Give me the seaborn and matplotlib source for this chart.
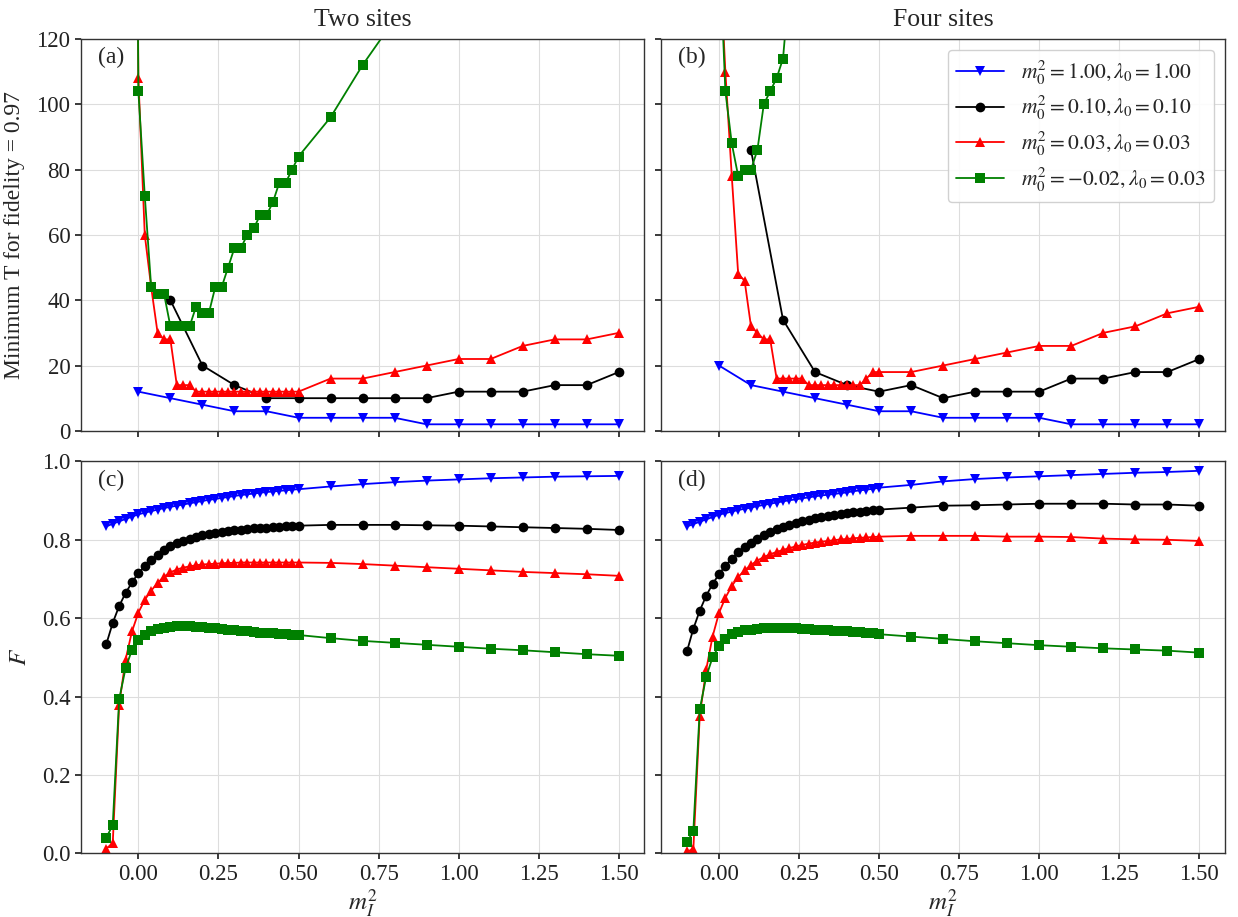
import matplotlib
matplotlib.use("Agg")
import matplotlib.pyplot as plt
import seaborn as sns

# ---------------- data ----------------
M_DENSE = [-0.10, -0.08, -0.06, -0.04, -0.02, 0.00, 0.02, 0.04, 0.06, 0.08,
           0.10, 0.12, 0.14, 0.16, 0.18, 0.20, 0.22, 0.24, 0.26, 0.28,
           0.30, 0.32, 0.34, 0.36, 0.38, 0.40, 0.42, 0.44, 0.46, 0.48, 0.50]
M_COARSE = [0.6, 0.7, 0.8, 0.9, 1.0, 1.1, 1.2, 1.3, 1.4, 1.5]
M_STEP = [0.0, 0.1, 0.2, 0.3, 0.4, 0.5] + M_COARSE
M_BOTTOM = M_DENSE + M_COARSE

LABELS = [r"$m_0^2 = 1.00, \lambda_0 = 1.00$",
          r"$m_0^2 = 0.10, \lambda_0 = 0.10$",
          r"$m_0^2 = 0.03, \lambda_0 = 0.03$",
          r"$m_0^2 = -0.02, \lambda_0 = 0.03$"]
COLORS = ["blue", "black", "red", "green"]
MARKERS = ["v", "o", "^", "s"]

# (a) two sites, minimum T
Ta_blue_x = M_STEP
Ta_blue = [12, 10, 8, 6, 6, 4, 4, 4, 4, 2, 2, 2, 2, 2, 2, 2]
Ta_black_x = M_STEP[1:]
Ta_black = [40, 20, 14, 10, 10, 10, 10, 10, 10, 12, 12, 12, 14, 14, 18]
Ta_red_x = M_DENSE[4:] + M_COARSE
Ta_red = [400, 108, 60, 44, 30, 28, 28, 14, 14, 14,
          12, 12, 12, 12, 12, 12, 12, 12, 12, 12, 12, 12, 12, 12, 12, 12, 12,
          16, 16, 18, 20, 22, 22, 26, 28, 28, 30]
Ta_green_x = M_DENSE[4:] + M_COARSE[:3]
Ta_green = [400, 104, 72, 44, 42, 42, 32, 32, 32, 32, 38, 36, 36, 44, 44,
            50, 56, 56, 60, 62, 66, 66, 70, 76, 76, 80, 84, 96, 112, 126]

# (b) four sites, minimum T
Tb_blue_x = M_STEP
Tb_blue = [20, 14, 12, 10, 8, 6, 6, 4, 4, 4, 4, 2, 2, 2, 2, 2]
Tb_black_x = M_STEP[1:]
Tb_black = [86, 34, 18, 14, 12, 14, 10, 12, 12, 12, 16, 16, 18, 18, 22]
Tb_red_x = M_DENSE[5:] + M_COARSE
Tb_red = [150, 110, 78, 48, 46, 32, 30, 28, 28,
          16, 16, 16, 16, 16,
          14, 14, 14, 14, 14, 14, 14, 14, 14,
          16, 18, 18,
          18, 20, 22, 24, 26, 26, 30, 32, 36, 38]
Tb_green_x = M_DENSE[5:17]
Tb_green = [152, 104, 88, 78, 80, 80, 86, 100, 104, 108, 114, 137]

# (c) two sites, fidelity
Fc_blue = [0.834, 0.841, 0.847, 0.853, 0.859, 0.865, 0.869, 0.873, 0.877, 0.881,
           0.884, 0.887, 0.890, 0.893, 0.896, 0.899, 0.902, 0.904, 0.907, 0.909,
           0.912, 0.914, 0.916, 0.918, 0.920, 0.922, 0.923, 0.925, 0.926, 0.928, 0.929,
           0.936, 0.942, 0.947, 0.951, 0.954, 0.957, 0.959, 0.961, 0.962, 0.963]
Fc_black = [0.534, 0.588, 0.631, 0.664, 0.691, 0.715, 0.733, 0.749, 0.762, 0.773,
            0.783, 0.791, 0.798, 0.803, 0.807, 0.811, 0.814, 0.817, 0.820, 0.822,
            0.824, 0.826, 0.828, 0.829, 0.830, 0.831, 0.832, 0.833, 0.834, 0.835, 0.836,
            0.838, 0.838, 0.838, 0.837, 0.836, 0.834, 0.832, 0.830, 0.828, 0.825]
Fc_red = [0.012, 0.026, 0.379, 0.494, 0.566, 0.614, 0.647, 0.670, 0.690, 0.706,
          0.717, 0.724, 0.729, 0.732, 0.735, 0.737, 0.738, 0.739, 0.740, 0.741,
          0.741, 0.742, 0.742, 0.742, 0.742, 0.742, 0.742, 0.742, 0.742, 0.742, 0.742,
          0.741, 0.738, 0.734, 0.730, 0.726, 0.722, 0.718, 0.715, 0.712, 0.708]
Fc_green = [0.040, 0.072, 0.393, 0.472, 0.519, 0.544, 0.558, 0.567, 0.573, 0.576,
            0.578, 0.579, 0.579, 0.579, 0.578, 0.577, 0.576, 0.574, 0.573, 0.571,
            0.569, 0.568, 0.566, 0.565, 0.563, 0.562, 0.561, 0.560, 0.559, 0.558, 0.557,
            0.549, 0.542, 0.537, 0.532, 0.527, 0.522, 0.518, 0.513, 0.508, 0.504]

# (d) four sites, fidelity
Fd_blue = [0.834, 0.840, 0.846, 0.852, 0.858, 0.864, 0.868, 0.872, 0.876, 0.879,
           0.882, 0.886, 0.889, 0.892, 0.895, 0.898, 0.901, 0.903, 0.906, 0.908,
           0.911, 0.913, 0.915, 0.917, 0.919, 0.921, 0.924, 0.926, 0.928, 0.930, 0.933,
           0.940, 0.949, 0.955, 0.959, 0.962, 0.965, 0.968, 0.971, 0.973, 0.976]
Fd_black = [0.515, 0.573, 0.619, 0.657, 0.687, 0.712, 0.734, 0.752, 0.768, 0.781,
            0.793, 0.803, 0.812, 0.820, 0.827, 0.833, 0.838, 0.843, 0.847, 0.851,
            0.855, 0.858, 0.861, 0.864, 0.866, 0.868, 0.870, 0.872, 0.874, 0.876, 0.877,
            0.882, 0.887, 0.888, 0.890, 0.892, 0.892, 0.892, 0.890, 0.890, 0.887]
Fd_red = [0.005, 0.010, 0.351, 0.468, 0.553, 0.613, 0.652, 0.682, 0.705, 0.722,
          0.736, 0.747, 0.756, 0.763, 0.769, 0.774, 0.779, 0.783, 0.787, 0.790,
          0.793, 0.795, 0.797, 0.799, 0.801, 0.802, 0.804, 0.805, 0.806, 0.807, 0.808,
          0.810, 0.810, 0.810, 0.808, 0.808, 0.807, 0.803, 0.801, 0.800, 0.797]
Fd_green = [0.028, 0.057, 0.367, 0.450, 0.500, 0.529, 0.548, 0.559, 0.565, 0.569,
            0.571, 0.573, 0.574, 0.575, 0.575, 0.575, 0.575, 0.574, 0.573, 0.572,
            0.571, 0.570, 0.569, 0.568, 0.567, 0.566, 0.565, 0.564, 0.562, 0.561, 0.559,
            0.553, 0.547, 0.541, 0.536, 0.531, 0.527, 0.523, 0.520, 0.517, 0.512]

X_TICKS = [0.00, 0.25, 0.50, 0.75, 1.00, 1.25, 1.50]
T_TICKS = [0, 20, 40, 60, 80, 100, 120]
F_TICKS = [0.0, 0.2, 0.4, 0.6, 0.8, 1.0]

# ---------------- style ----------------
sns.set_theme(style="whitegrid")
plt.rcParams["font.family"] = ["Liberation Serif", "DejaVu Serif"]
plt.rcParams["mathtext.fontset"] = "stix"
plt.rcParams.update({
    "axes.edgecolor": "#333333",
    "axes.linewidth": 1.0,
    "grid.color": "#dddddd",
    "grid.linewidth": 0.8,
    "xtick.bottom": True,
    "ytick.left": True,
    "xtick.major.size": 4,
    "ytick.major.size": 4,
    "xtick.color": "#222222",
    "ytick.color": "#222222",
    "xtick.labelsize": 16.5,
    "ytick.labelsize": 16.5,
})

fig, axes = plt.subplots(2, 2, figsize=(12.38, 9.17), dpi=100)
fig.subplots_adjust(left=0.0652, right=0.9895, top=0.9575, bottom=0.0695,
                    wspace=0.03, hspace=0.078)

top_sets = [
    [(Ta_blue_x, Ta_blue), (Ta_black_x, Ta_black), (Ta_red_x, Ta_red), (Ta_green_x, Ta_green)],
    [(Tb_blue_x, Tb_blue), (Tb_black_x, Tb_black), (Tb_red_x, Tb_red), (Tb_green_x, Tb_green)],
]
bot_sets = [
    [Fc_blue, Fc_black, Fc_red, Fc_green],
    [Fd_blue, Fd_black, Fd_red, Fd_green],
]

MS = 7
for j in range(2):
    ax = axes[0, j]
    for k, (xs, ys) in enumerate(top_sets[j]):
        sns.lineplot(x=xs, y=ys, ax=ax, color=COLORS[k], marker=MARKERS[k],
                     markersize=MS, markeredgewidth=0, linewidth=1.3,
                     estimator=None, sort=False, label=LABELS[k] if j == 1 else None)
    ax.set_ylim(0, 120)
    ax.set_yticks(T_TICKS)
    ax = axes[1, j]
    for k, ys in enumerate(bot_sets[j]):
        sns.lineplot(x=M_BOTTOM, y=ys, ax=ax, color=COLORS[k], marker=MARKERS[k],
                     markersize=MS, markeredgewidth=0, linewidth=1.3,
                     estimator=None, sort=False)
    ax.set_ylim(0, 1.0)
    ax.set_yticks(F_TICKS)

for ax in axes.flat:
    ax.set_xlim(-0.18, 1.58)
    ax.set_xticks(X_TICKS)
    ax.grid(True, color="#dddddd", linewidth=0.8)
    ax.set_xlabel("")
    ax.set_ylabel("")

for ax in axes[0, :]:
    ax.tick_params(labelbottom=False)
for ax in axes[:, 1]:
    ax.tick_params(labelleft=False)
for ax in axes[1, :]:
    ax.set_xticklabels([f"{t:.2f}" for t in X_TICKS])
    ax.set_xlabel(r"$m_I^2$", fontsize=18, labelpad=2)
axes[0, 0].set_yticklabels([str(t) for t in T_TICKS])
axes[1, 0].set_yticklabels([f"{t:.1f}" for t in F_TICKS])

axes[0, 0].set_ylabel("Minimum T for fidelity = 0.97", fontsize=17, labelpad=8)
axes[1, 0].set_ylabel(r"$F$", fontsize=18, labelpad=8)
axes[0, 0].set_title("Two sites", fontsize=18.5, pad=9)
axes[0, 1].set_title("Four sites", fontsize=18.5, pad=9)

for ax, lab in zip(axes.flat, ["(a)", "(b)", "(c)", "(d)"]):
    ax.text(0.03, 0.952, lab, transform=ax.transAxes, fontsize=17,
            ha="left", va="center")

leg = axes[0, 1].legend(loc="upper right", fontsize=15.5, frameon=True,
                        framealpha=0.9, edgecolor="#cccccc", borderpad=0.4,
                        labelspacing=0.35, handlelength=2.2)

fig.savefig("out.png", dpi=100)
